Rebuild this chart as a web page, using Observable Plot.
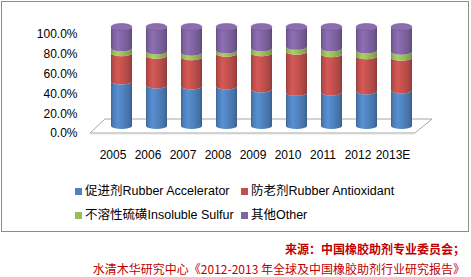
<!DOCTYPE html>
<html><head><meta charset="utf-8">
<script src="https://cdn.jsdelivr.net/npm/d3@7"></script>
<script src="https://cdn.jsdelivr.net/npm/@observablehq/plot@0.6"></script>
<style>
body{margin:0;background:#fff;}
#wrap{position:relative;width:471px;height:277px;overflow:hidden;font-family:"Liberation Sans",Arial,"Noto Sans CJK SC",sans-serif;}
#box{position:absolute;left:1px;top:1px;width:466px;height:229px;border:1px solid #8c8c8c;pointer-events:none;}
#chart{position:absolute;left:0;top:0;}
.leg{position:absolute;display:flex;align-items:center;font-size:12.5px;color:#000;white-space:nowrap;height:16px;line-height:16px;}
.sw{width:7px;height:7px;margin-right:3px;flex:none;}
.src{position:absolute;right:6px;font-family:"Noto Sans CJK SC",sans-serif;font-size:12px;color:#c00000;white-space:nowrap;line-height:12px;height:12px;}
</style>
</head><body>
<div id="wrap"><div id="chart"></div><div id="box"></div></div>
<script>
const years = ["2005","2006","2007","2008","2009","2010","2011","2012","2013E"];
const seriesNames = ["促进剂Rubber Accelerator","防老剂Rubber Antioxidant","不溶性硫磺Insoluble Sulfur","其他Other"];
const colors = ["#4f81bd","#c0504d","#9bbb59","#8064a2"];
const accelerator = [45, 41, 40, 40, 37, 33.5, 34, 35, 36];
const antioxidant = [28.5, 30, 29.5, 33, 36.5, 41.5, 38.5, 35.5, 33];
const sulfur = [5, 4.5, 4.5, 3.5, 5, 5, 6, 6, 6];
const other = [21.5, 24.5, 26, 23.5, 21.5, 20, 21.5, 23.5, 25];
const yTicks = [0, 0.2, 0.4, 0.6, 0.8, 1];
const sourceLines = ["来源：中国橡胶助剂专业委员会；","水清木华研究中心《2012-2013 年全球及中国橡胶助剂行业研究报告》"];

const seriesValues = [accelerator, antioxidant, sulfur, other];
const rows = years.flatMap((yr, i) => seriesNames.map((s, k) => ({year: yr, series: s, value: seriesValues[k][i] / 100})));

const DX = 9, DY = -7, RY = 3;

function cylinders(index, scales, values, dimensions) {
  const g = d3.create("svg:g");
  const defs = g.append("defs");
  const made = {};
  const X = values.x || values.x1;
  const bw = scales.x.bandwidth ? scales.x.bandwidth() : 21.6;
  const yTop = scales.y(1);
  function grad(c) {
    const id = "g" + c.replace(/[^a-z0-9]/gi, "");
    if (made[id]) return id;
    made[id] = true;
    const base = d3.color(c);
    const lg = defs.append("linearGradient").attr("id", id).attr("x1", 0).attr("x2", 1).attr("y1", 0).attr("y2", 0);
    [[0, base.darker(0.7)], [0.1, base.darker(0.1)], [0.32, base.brighter(0.3)], [0.6, base], [0.88, base.darker(0.4)], [1, base.darker(0.9)]]
      .forEach(([o, col]) => lg.append("stop").attr("offset", o).attr("stop-color", col.formatHex()));
    return id;
  }
  for (const i of index) {
    const x0 = X[i] + DX, w = bw;
    const yb = Math.max(values.y1[i], values.y2[i]) + DY;
    const yt = Math.min(values.y1[i], values.y2[i]) + DY;
    const c = values.fill[i];
    const id = grad(c);
    g.append("path")
      .attr("d", `M${x0},${yt}L${x0},${yb}A${w/2},${RY} 0 0 0 ${x0+w},${yb}L${x0+w},${yt}A${w/2},${RY} 0 0 1 ${x0},${yt}Z`)
      .attr("fill", `url(#${id})`);
    if (Math.abs(Math.min(values.y1[i], values.y2[i]) - yTop) < 0.5) {
      const base = d3.color(c);
      g.append("ellipse").attr("cx", x0 + w/2).attr("cy", yt).attr("rx", w/2).attr("ry", RY + 0.5)
        .attr("fill", base.brighter(0.25).formatHex()).attr("stroke", base.darker(0.3).formatHex()).attr("stroke-width", 0.6);
    }
  }
  return g.node();
}

function floorMark(index, scales, values, dimensions) {
  const y0 = scales.y(0);
  const l = dimensions.marginLeft, r = dimensions.width - dimensions.marginRight;
  const g = d3.create("svg:g");
  g.append("polygon")
    .attr("points", [[l+7, y0], [r-6, y0], [r+11, y0-14], [l+22, y0-14]].map(p => p.join(",")).join(" "))
    .attr("fill", "#fff").attr("stroke", "#a6a6a6").attr("stroke-width", 1);
  g.append("line").attr("x1", l+7).attr("x2", r-6).attr("y1", y0+0.8).attr("y2", y0+0.8).attr("stroke", "#d0d0d0");
  return g.node();
}

const chart = Plot.plot({
  width: 471, height: 232,
  marginLeft: 83, marginRight: 50, marginTop: 34, marginBottom: 99,
  style: {fontFamily: "'Liberation Sans', Arial, sans-serif", fontSize: "12px", color: "#000", background: "transparent", overflow: "visible"},
  x: {domain: years, padding: 0.4, tickSize: 0, tickPadding: 17, label: null},
  y: {domain: [0, 1], ticks: yTicks, tickFormat: d3.format(".1%"), tickSize: 0, tickPadding: 6, label: null},
  color: {domain: seriesNames, range: colors},
  marks: [
    floorMark,
    Plot.barY(rows, {x: "year", y: "value", fill: "series", render: cylinders})
  ]
});
document.getElementById("chart").appendChild(chart);

const wrap = document.getElementById("wrap");
const legCols = [75, 241], legRows = [183, 207];
seriesNames.forEach((s, k) => {
  const d = document.createElement("div");
  d.className = "leg";
  d.style.left = legCols[k % 2] + "px";
  d.style.top = legRows[Math.floor(k / 2)] + "px";
  const sw = document.createElement("span");
  sw.className = "sw"; sw.style.background = colors[k];
  d.appendChild(sw);
  d.appendChild(document.createTextNode(s));
  wrap.appendChild(d);
});
const srcTops = [243, 263];
sourceLines.forEach((t, k) => {
  const d = document.createElement("div");
  d.className = "src";
  d.style.top = srcTops[k] + "px";
  if (k === 0) d.style.fontWeight = "bold";
  d.textContent = t;
  wrap.appendChild(d);
});
</script>
</body></html>
